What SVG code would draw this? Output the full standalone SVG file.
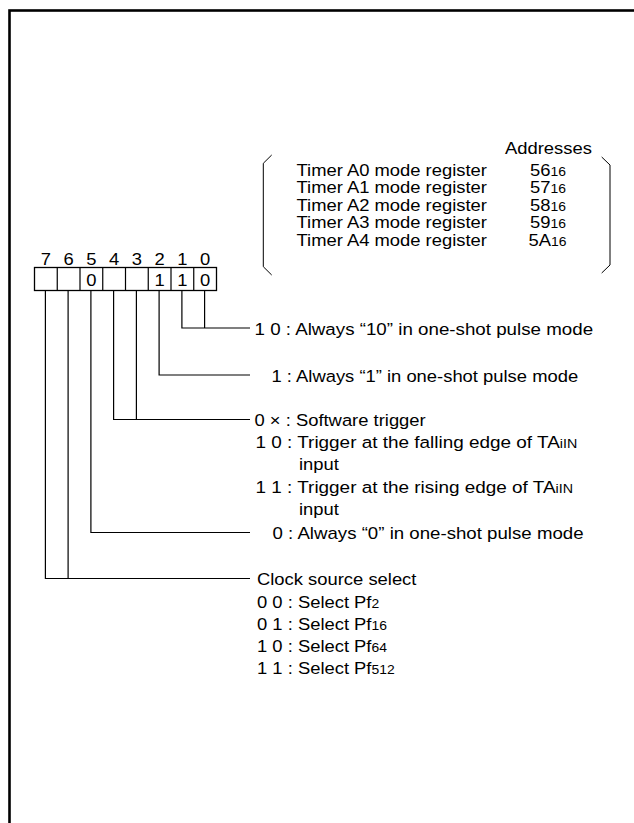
<svg xmlns="http://www.w3.org/2000/svg" width="634" height="823" viewBox="0 0 634 823">
<style>
text{font-family:"Liberation Sans",Arial,sans-serif;font-size:17.2px;fill:#000}
.sub{font-size:13px}
.c{text-anchor:middle}
.ln{stroke:#000;stroke-width:1.2;fill:none}
.br{stroke:#000;stroke-width:1;fill:none}
</style>
<rect x="9.5" y="10.5" width="700" height="900" fill="#fff" stroke="#000" stroke-width="2.6"/>
<g id="addresses">
<path class="br" d="M271.7 155 L263.3 163.3 L263.3 266.7 L271.7 275"/>
<path class="br" d="M601.7 157 L610 165 L610 265 L601.7 273"/>
<text transform="translate(505 154) scale(1.07 1)">Addresses</text>
<text transform="translate(296.5 175.5) scale(1.07 1)">Timer A0 mode register</text>
<text transform="translate(296.5 193) scale(1.07 1)">Timer A1 mode register</text>
<text transform="translate(296.5 210.5) scale(1.07 1)">Timer A2 mode register</text>
<text transform="translate(296.5 228) scale(1.07 1)">Timer A3 mode register</text>
<text transform="translate(296.5 245.5) scale(1.07 1)">Timer A4 mode register</text>
<text transform="translate(530 175.5) scale(1.07 1)">56<tspan class="sub">16</tspan></text>
<text transform="translate(530 193) scale(1.07 1)">57<tspan class="sub">16</tspan></text>
<text transform="translate(530 210.5) scale(1.07 1)">58<tspan class="sub">16</tspan></text>
<text transform="translate(530 228) scale(1.07 1)">59<tspan class="sub">16</tspan></text>
<text transform="translate(528.5 245.5) scale(1.07 1)">5A<tspan class="sub">16</tspan></text>
</g>
<g id="register">
<rect x="34.5" y="267.5" width="182" height="23" fill="#fff" stroke="#000" stroke-width="1.3"/>
<path class="ln" d="M57.25 267.5V290.5M80 267.5V290.5M102.75 267.5V290.5M125.5 267.5V290.5M148.25 267.5V290.5M171 267.5V290.5M193.75 267.5V290.5"/>
<text class="c" transform="translate(45.9 265) scale(1.07 1)">7</text>
<text class="c" transform="translate(68.6 265) scale(1.07 1)">6</text>
<text class="c" transform="translate(91.4 265) scale(1.07 1)">5</text>
<text class="c" transform="translate(114.1 265) scale(1.07 1)">4</text>
<text class="c" transform="translate(136.9 265) scale(1.07 1)">3</text>
<text class="c" transform="translate(159.6 265) scale(1.07 1)">2</text>
<text class="c" transform="translate(182.4 265) scale(1.07 1)">1</text>
<text class="c" transform="translate(205.1 265) scale(1.07 1)">0</text>
<text class="c" transform="translate(91.4 286) scale(1.07 1)">0</text>
<text class="c" transform="translate(159.6 286) scale(1.07 1)">1</text>
<text class="c" transform="translate(182.4 286) scale(1.07 1)">1</text>
<text class="c" transform="translate(205.1 286) scale(1.07 1)">0</text>
</g>
<g id="connectors">
<path class="ln" d="M204.6 290.5V328M181.9 290.5V328H250"/>
<path class="ln" d="M159.1 290.5V375H250"/>
<path class="ln" d="M136.4 290.5V419.5M113.6 290.5V419.5H250"/>
<path class="ln" d="M90.9 290.5V532.5H250"/>
<path class="ln" d="M68.1 290.5V578.5M45.4 290.5V578.5H250"/>
</g>
<g id="bits10">
<text transform="translate(254.5 334.5) scale(1.09 1)">1 0 : Always “10” in one-shot pulse mode</text>
</g>
<g id="bit2">
<text transform="translate(271.5 381.5) scale(1.07 1)">1 : Always “1” in one-shot pulse mode</text>
</g>
<g id="bits43">
<text transform="translate(254.5 426) scale(1.07 1)">0 × : Software trigger</text>
<text transform="translate(255.5 448) scale(1.1 1)">1 0 : Trigger at the falling edge of TA<tspan class="sub">iIN</tspan></text>
<text transform="translate(299 470) scale(1.07 1)">input</text>
<text transform="translate(255.5 492.5) scale(1.1 1)">1 1 : Trigger at the rising edge of TA<tspan class="sub">iIN</tspan></text>
<text transform="translate(299 514.5) scale(1.07 1)">input</text>
</g>
<g id="bit5">
<text transform="translate(272.5 539) scale(1.085 1)">0 : Always “0” in one-shot pulse mode</text>
</g>
<g id="bits76">
<text transform="translate(257 585) scale(1.07 1)">Clock source select</text>
<text transform="translate(257 607.5) scale(1.07 1)">0 0 : Select Pf<tspan class="sub">2</tspan></text>
<text transform="translate(257 629.5) scale(1.07 1)">0 1 : Select Pf<tspan class="sub">16</tspan></text>
<text transform="translate(257 651.5) scale(1.07 1)">1 0 : Select Pf<tspan class="sub">64</tspan></text>
<text transform="translate(257 673.5) scale(1.07 1)">1 1 : Select Pf<tspan class="sub">512</tspan></text>
</g>
</svg>
